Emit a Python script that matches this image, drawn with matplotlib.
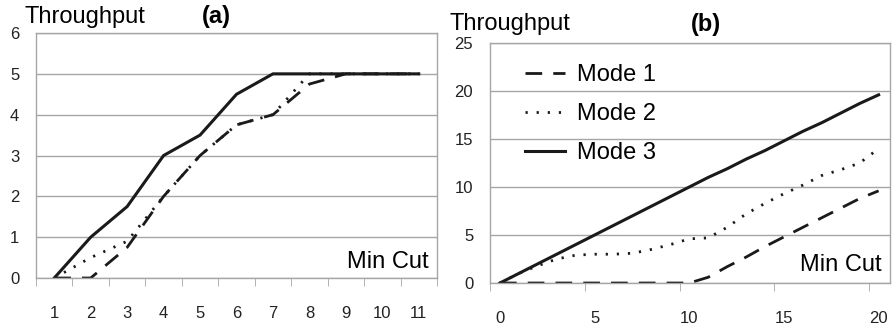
import matplotlib.pyplot as plt

plt.rcParams['font.family'] = ['Liberation Sans', 'DejaVu Sans']

# panel (a): category axis 1..11
cats_a = [1, 2, 3, 4, 5, 6, 7, 8, 9, 10, 11]
mode1_a = [0, 0, 0.75, 2, 3, 3.75, 4, 4.75, 5, 5, 5]
mode2_a = [0, 0.5, 0.9, 2, 3, 3.75, 4, 5, 5, 5, 5]
mode3_a = [0, 1, 1.75, 3, 3.5, 4.5, 5, 5, 5, 5, 5]

# panel (b): min cut 0..20
x_b = list(range(21))
mode1_b = [0, 0, 0, 0, 0, 0, 0, 0, 0, 0, 0, 0.6, 1.7, 2.7, 3.8, 4.8, 5.8, 6.8, 7.8, 8.8, 9.6]
mode2_b = [0, 1, 1.8, 2.5, 2.9, 3, 3, 3.1, 3.5, 4, 4.6, 4.7, 5.8, 7.2, 8.3, 9.3, 10.2, 11.2, 11.8, 12.5, 14]
mode3_b = [0, 1, 2, 3, 4, 5, 6, 7, 8, 9, 10, 11, 11.9, 12.9, 13.8, 14.8, 15.8, 16.7, 17.7, 18.7, 19.6]

grid_c = '#a6a6a6'
line_c = '#1a1a1a'

fig = plt.figure(figsize=(8.94, 3.25), dpi=100)
ax1 = fig.add_axes([0.0403, 0.1446, 0.4485, 0.7538])
ax2 = fig.add_axes([0.548, 0.1292, 0.4475, 0.7385])


def style(ax):
    for s in ax.spines.values():
        s.set_color(grid_c)
        s.set_linewidth(1)
    ax.yaxis.grid(True, color=grid_c, lw=1)
    ax.set_axisbelow(True)
    ax.tick_params(axis='y', length=0, pad=12, labelsize=12, colors='#222222')
    ax.tick_params(axis='x', which='major', length=0, pad=20, labelsize=12, colors='#222222')
    ax.tick_params(axis='x', which='minor', length=6, color=grid_c, direction='out')


def draw(ax, x, m1, m2, m3):
    ax.plot(x, m1, color=line_c, lw=2, dashes=(6, 4), label='Mode 1')
    ax.plot(x, m2, color=line_c, lw=2, dashes=(0.8, 3.2), label='Mode 2')
    ax.plot(x, m3, color=line_c, lw=2.2, label='Mode 3')


# (a)
draw(ax1, cats_a, mode1_a, mode2_a, mode3_a)
style(ax1)
ax1.set_xlim(0.5, 11.5)
ax1.set_ylim(0, 6)
ax1.set_xticks(cats_a)
ax1.set_xticks([c + 0.5 for c in range(0, 12)], minor=True)
ax1.set_yticks(range(7))
ax1.text(-0.028, 1.02, 'Throughput', transform=ax1.transAxes, fontsize=17, va='bottom', ha='left')
ax1.text(0.45, 1.02, '(a)', transform=ax1.transAxes, fontsize=17, fontweight='bold', va='bottom', ha='center')
ax1.text(0.98, 0.065, 'Min Cut', transform=ax1.transAxes, fontsize=17, ha='right', va='center')

# (b)
draw(ax2, x_b, mode1_b, mode2_b, mode3_b)
style(ax2)
ax2.set_xlim(-0.53, 20.6)
ax2.set_ylim(0, 25)
ax2.set_xticks([0, 5, 10, 15, 20])
ax2.set_xticks([-0.5, 4.5, 9.5, 14.5, 19.5], minor=True)
ax2.set_yticks([0, 5, 10, 15, 20, 25])
ax2.text(-0.1, 1.035, 'Throughput', transform=ax2.transAxes, fontsize=17, va='bottom', ha='left')
ax2.text(0.54, 1.03, '(b)', transform=ax2.transAxes, fontsize=17, fontweight='bold', va='bottom', ha='center')
ax2.text(0.98, 0.075, 'Min Cut', transform=ax2.transAxes, fontsize=17, ha='right', va='center')
ax2.legend(loc='upper left', bbox_to_anchor=(0.035, 1.0), frameon=False, fontsize=17,
           handlelength=1.7, handletextpad=0.5, labelspacing=0.72)

fig.savefig('out.png', dpi=100)
